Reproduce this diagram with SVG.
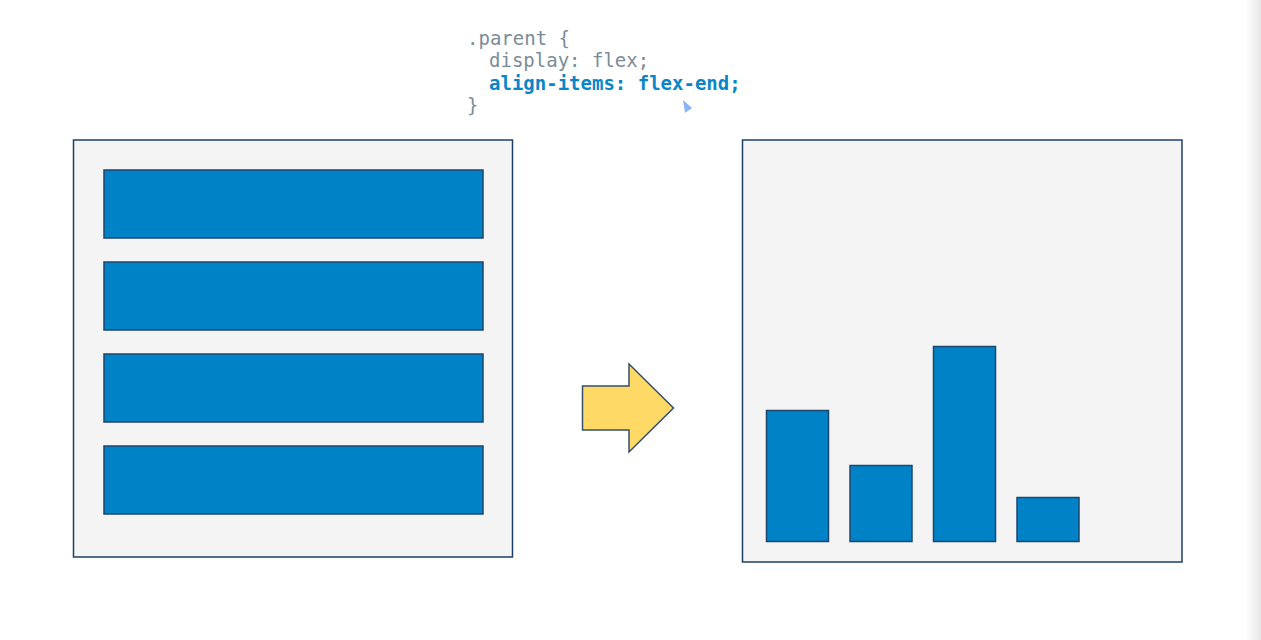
<svg xmlns="http://www.w3.org/2000/svg" width="1261" height="640" viewBox="0 0 1261 640">
<defs>
<linearGradient id="edge" x1="0" y1="0" x2="1" y2="0">
<stop offset="0" stop-color="#ffffff"/>
<stop offset="1" stop-color="#e6e6e6"/>
</linearGradient>
<style>
.panel{fill:#f4f4f4;stroke:#1d3f66;stroke-width:1.5}
.item{fill:#0083c6;stroke:#1d466f;stroke-width:1.5}
.code{font-family:"DejaVu Sans Mono","Liberation Mono",monospace;font-size:19px;fill:#7a8c98}
.hl{fill:#0a86c8;font-weight:bold}
</style>
</defs>
<rect width="1261" height="640" fill="#ffffff"/>
<rect x="1246" y="0" width="15" height="640" fill="url(#edge)"/>
<g id="code">
<text class="code" x="467" y="45">.parent {</text>
<text class="code" x="489" y="67">display: flex;</text>
<text class="code hl" x="489" y="90">align-items: flex-end;</text>
<text class="code" x="467" y="112">}</text>
<polygon points="683,100 692,108 685,113" fill="#8ab4f8"/>
</g>
<g id="before">
<rect class="panel" x="73.5" y="140" width="439" height="417"/>
<rect class="item" x="104" y="170" width="379" height="68"/>
<rect class="item" x="104" y="262" width="379" height="68"/>
<rect class="item" x="104" y="354" width="379" height="68"/>
<rect class="item" x="104" y="446" width="379" height="68"/>
</g>
<g id="connectors">
<polygon points="582.5,386 629,386 629,364 673.5,408 629,452 629,430 582.5,430" fill="#fed966" stroke="#33506e" stroke-width="1.5"/>
</g>
<g id="after">
<rect class="panel" x="742.5" y="140" width="439.5" height="422"/>
<rect class="item" x="766.5" y="410.5" width="62" height="131"/>
<rect class="item" x="850" y="465.5" width="62" height="76"/>
<rect class="item" x="933.5" y="346.5" width="62" height="195"/>
<rect class="item" x="1017" y="497.5" width="62" height="44"/>
</g>
</svg>
